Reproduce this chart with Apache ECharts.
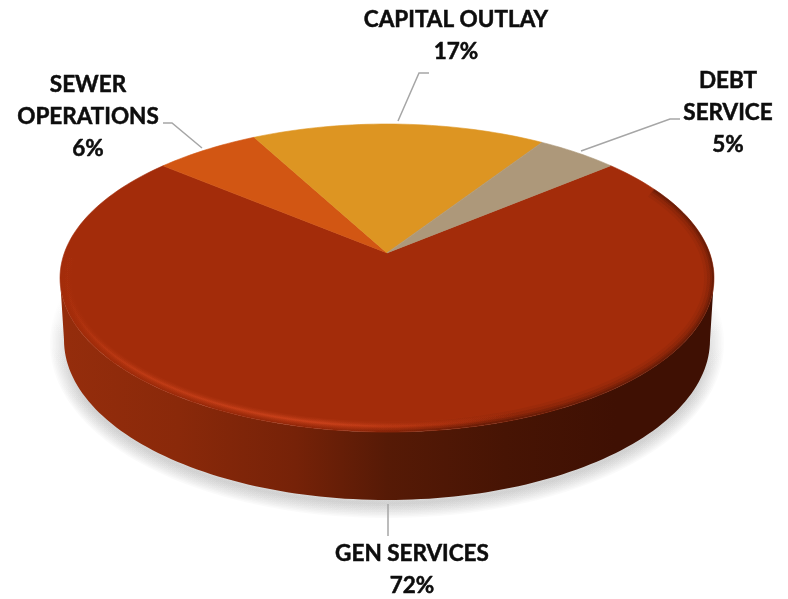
<!DOCTYPE html>
<html>
<head>
<meta charset="utf-8">
<style>html,body{margin:0;padding:0;background:#fff}#c{width:788px;height:599px}</style>
<script src="https://cdn.jsdelivr.net/npm/echarts@6/dist/echarts.min.js"></script>
</head>
<body>
<div id="c"></div>
<script>
var categories = ['GEN SERVICES', 'SEWER\nOPERATIONS', 'CAPITAL OUTLAY', 'DEBT\nSERVICE'];
var shares = [72.2, 6.1, 17, 4.7];
var sliceColors = ['#a32c0a', '#d25613', '#dd9522', '#ad987a'];

var labelSpots = [[412, 570], [88, 116.5], [456, 36], [728, 113]];
var leaders = [
  [[388, 504], [388, 536]],
  [[163, 123], [172, 123], [202, 148]],
  [[429, 73], [419, 73], [398, 121]],
  [[680, 119], [670, 119], [581, 151]]
];
var startAngle = 40;

var cx = 387, cy = 278, rx = 327, ry = 154, tilt = 0.163;
var chart = echarts.init(document.getElementById('c'), null, {renderer: 'canvas'});
var total = shares.reduce(function (a, b) { return a + b; }, 0);
var G = echarts.graphic.LinearGradient;

function face(deg) {
  var a = deg * Math.PI / 180, u = Math.cos(a), v = Math.sin(a);
  var w = 1 + tilt * v, s = Math.sqrt(1 - tilt * tilt);
  return [cx + rx * s * u / w, cy - ry * (v + tilt) / w];
}
function arc(ex, ey, ecy, a0, a1) {
  var p = [], n = Math.max(2, Math.round(Math.abs(a1 - a0) / 1.5));
  for (var i = 0; i <= n; i++) {
    var a = (a0 + (a1 - a0) * i / n) * Math.PI / 180;
    p.push([cx + ex * Math.cos(a), ecy - ey * Math.sin(a)]);
  }
  return p;
}
function sliceRange(idx) {
  var before = 0;
  for (var i = 0; i < idx; i++) before += shares[i];
  return [startAngle - before / total * 360, startAngle - (before + shares[idx]) / total * 360];
}
function stroke(points, color, width) {
  return {type: 'polyline', shape: {points: points},
    style: {fill: null, stroke: color, lineWidth: width, lineCap: 'butt', lineJoin: 'round'}};
}

var shadowSeries = {
  type: 'custom', coordinateSystem: 'none', silent: true, data: [0],
  renderItem: function () {
    var kids = [];
    var fade = function (a) {
      return new G(0, 0, 0, 1, [
        {offset: 0, color: 'rgba(0,0,0,0)'},
        {offset: 0.22, color: 'rgba(0,0,0,' + a * 0.6 + ')'},
        {offset: 0.5, color: 'rgba(0,0,0,' + a + ')'},
        {offset: 1, color: 'rgba(0,0,0,' + a + ')'}
      ]);
    };
    for (var w = 30; w >= 2; w -= 3) {
      kids.push(stroke(arc(rx - 5, 160, 343, 162, 378), fade(0.02), w));
    }
    return {type: 'group', children: kids};
  }
};

var wallSeries = {
  type: 'custom', coordinateSystem: 'none', silent: true, data: [0],
  renderItem: function () {
    var pts = arc(rx - 4, 160, 340, 180, 360).concat(arc(rx, ry, cy, 0, -180));
    return {type: 'polygon', shape: {points: pts}, style: {
      fill: new G(0, 0, 1, 0, [
        {offset: 0, color: '#952d0c'}, {offset: 0.18, color: '#8a290a'},
        {offset: 0.36, color: '#762208'}, {offset: 0.5, color: '#561a06'},
        {offset: 0.68, color: '#471404'}, {offset: 0.85, color: '#3f1003'}, {offset: 1, color: '#3f1003'}
      ])
    }};
  }
};

var sliceSeries = {
  type: 'custom', coordinateSystem: 'none', silent: true,
  data: shares.map(function (v, i) { return {value: v, name: categories[i]}; }),
  renderItem: function (params) {
    var r = sliceRange(params.dataIndex), pts = [[cx, cy - ry * tilt]], n = Math.ceil(Math.abs(r[1] - r[0]) / 1.5);
    for (var i = 0; i <= n; i++) pts.push(face(r[0] + (r[1] - r[0]) * i / n));
    var col = sliceColors[params.dataIndex];
    return {type: 'polygon', shape: {points: pts}, style: {fill: col, stroke: col, lineWidth: 0.6}};
  }
};

var bevelSeries = {
  type: 'custom', coordinateSystem: 'none', silent: true, data: [0],
  renderItem: function () {
    var dark = function (a) {
      return new G(0, 0, 1, 0, [
        {offset: 0, color: 'rgba(60,15,3,0)'},
        {offset: 0.45, color: 'rgba(60,15,3,' + a * 0.25 + ')'},
        {offset: 0.65, color: 'rgba(60,15,3,' + a + ')'},
        {offset: 1, color: 'rgba(60,15,3,' + a + ')'}
      ]);
    };
    var lite = function (a) {
      return new G(0, 0, 1, 0.6, [
        {offset: 0, color: 'rgba(205,66,26,0)'},
        {offset: 0.2, color: 'rgba(205,66,26,' + a * 0.8 + ')'},
        {offset: 0.6, color: 'rgba(215,72,32,' + a + ')'},
        {offset: 0.85, color: 'rgba(200,60,20,' + a * 0.5 + ')'},
        {offset: 1, color: 'rgba(190,55,20,0)'}
      ]);
    };
    var kids = [];
    [[1, 2, 0.28], [2, 4, 0.2], [3.5, 7, 0.12], [5, 10, 0.07]].forEach(function (d) {
      kids.push(stroke(arc(rx - d[0], ry - d[0], cy, 180, 395), dark(d[2]), d[1]));
    });
    [[9, 0.12], [6.5, 0.16], [4.5, 0.2], [2.5, 0.28], [1.2, 0.35]].forEach(function (d) {
      kids.push(stroke(arc(rx - 7, ry - 6, cy, 172, 296), lite(d[1]), d[0]));
    });
    return {type: 'group', children: kids};
  }
};

var labelSeries = {
  type: 'custom', coordinateSystem: 'none', silent: true,
  data: shares.map(function (v, i) { return {value: v, name: categories[i]}; }),
  renderItem: function (params) {
    var i = params.dataIndex;
    return {type: 'group', children: [
      {type: 'polyline', shape: {points: leaders[i]}, style: {fill: null, stroke: '#a6a6a6', lineWidth: 1.5}},
      {type: 'text', x: labelSpots[i][0], y: labelSpots[i][1], style: {
        text: categories[i] + '\n' + Math.round(shares[i]) + '%',
        fill: '#0d0d0d', stroke: '#0d0d0d', lineWidth: 0.5,
        font: 'bold 22.5px Lato, Carlito, sans-serif',
        lineHeight: 32, align: 'center', verticalAlign: 'middle'
      }}
    ]};
  }
};

chart.setOption({
  animation: false,
  backgroundColor: '#ffffff',
  series: [shadowSeries, wallSeries, sliceSeries, bevelSeries, labelSeries]
});
</script>
</body>
</html>
